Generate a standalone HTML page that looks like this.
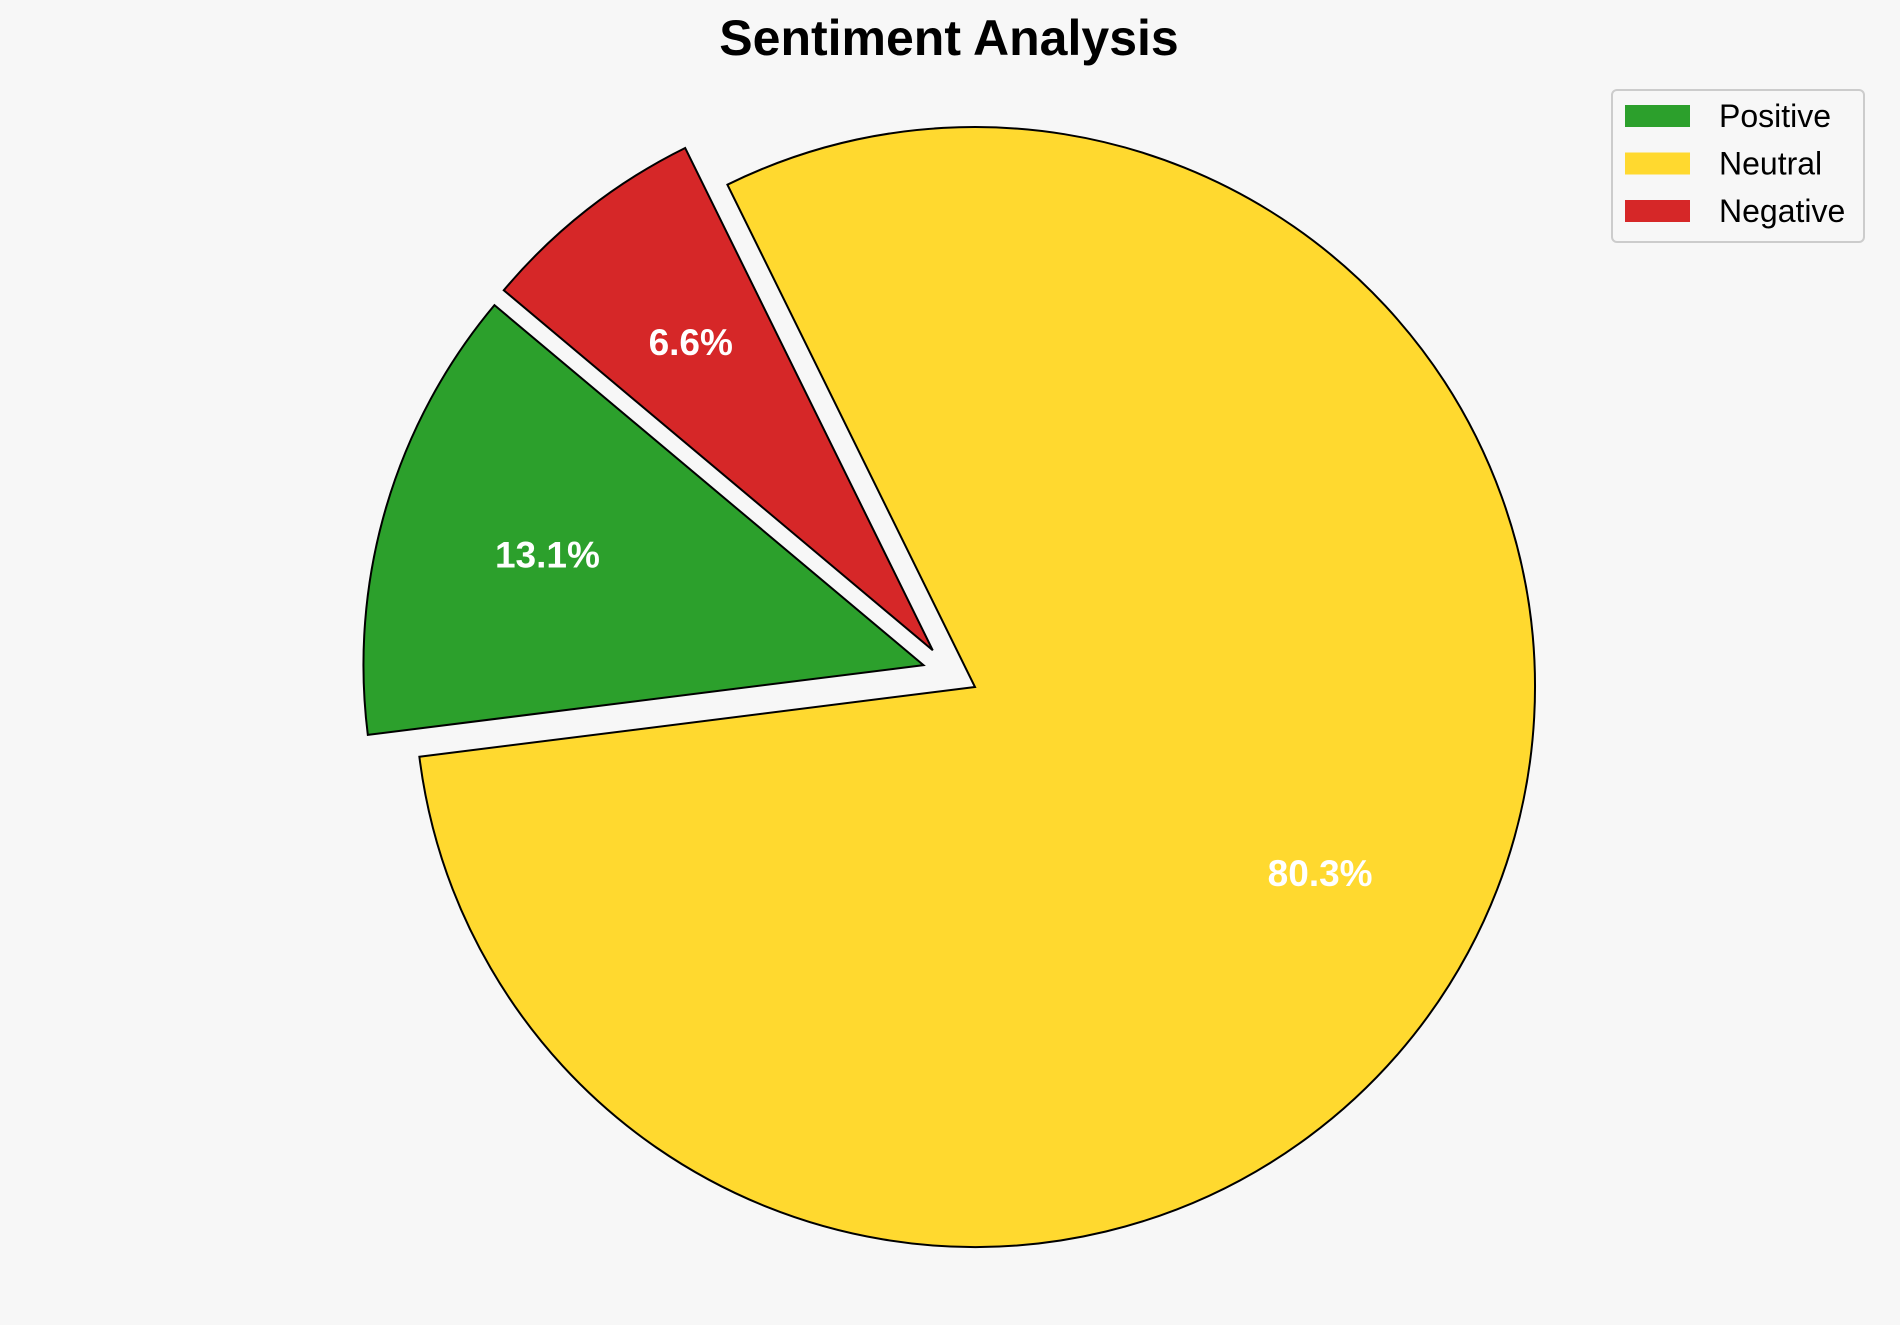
<!DOCTYPE html>
<html><head><meta charset="utf-8">
<style>
html,body{margin:0;padding:0;background:#f7f7f7;}
svg{display:block;font-family:"Liberation Sans",Arial,sans-serif;}
</style></head>
<body>
<svg id="chart" width="1900" height="1325" viewBox="0 0 1900 1325">
<rect width="1900" height="1325" fill="#f7f7f7"/>
<text x="949" y="55" text-anchor="middle" font-size="50" font-weight="bold" fill="#000">Sentiment Analysis</text>
<g id="pie"></g>
<g id="legend">
<rect x="1612" y="90" width="252" height="152" rx="5" fill="#f7f7f7" stroke="#cccccc" stroke-width="2"/>
</g>
</svg>
<script>
const categories = ["Positive", "Neutral", "Negative"];
const values = [13.1, 80.3, 6.6];
const colors = ["#2ca02c", "#ffd92f", "#d62728"];
const explode = [0.1, 0, 0.1];
const explodeDir = [157, null, 139];
const startAngle = 140;

const cx = 975, cy = 687, R = 560, pctDist = 0.7;
const NS = "http://www.w3.org/2000/svg";
const pie = document.getElementById("pie");
const total = values.reduce((a,b)=>a+b,0);
let a0 = startAngle;
function pt(ox, oy, r, deg){ const t = deg*Math.PI/180; return [ox + r*Math.cos(t), oy - r*Math.sin(t)]; }
values.forEach((v,i)=>{
  const span = v/total*360;
  const a1 = a0 + span;
  const mid = (a0+a1)/2;
  const dir = explodeDir[i] == null ? mid : explodeDir[i];
  const [ox, oy] = pt(cx, cy, explode[i]*R, dir);
  const p0 = pt(ox, oy, R, a0), p1 = pt(ox, oy, R, a1);
  const large = span > 180 ? 1 : 0;
  const path = document.createElementNS(NS, "path");
  path.setAttribute("d", `M${ox},${oy} L${p0[0]},${p0[1]} A${R},${R} 0 ${large} 0 ${p1[0]},${p1[1]} Z`);
  path.setAttribute("fill", colors[i]);
  path.setAttribute("stroke", "#000");
  path.setAttribute("stroke-width", "2");
  
  
  pie.appendChild(path);
  const lp = pt(ox, oy, R*pctDist, mid);
  const t = document.createElementNS(NS, "text");
  t.setAttribute("x", lp[0]); t.setAttribute("y", lp[1] + 13);
  t.setAttribute("text-anchor", "middle");
  t.setAttribute("font-size", "37"); t.setAttribute("font-weight", "bold");
  t.setAttribute("fill", "#fff");
  t.textContent = (v/total*100).toFixed(1) + "%";
  
  
  pie.appendChild(t);
  a0 = a1;
});
const legend = document.getElementById("legend");
categories.forEach((c,i)=>{
  const y = 116 + i*47.5;
  const r = document.createElementNS(NS, "rect");
  r.setAttribute("x", 1625); r.setAttribute("y", y-11);
  r.setAttribute("width", 65); r.setAttribute("height", 22);
  r.setAttribute("fill", colors[i]);
  
  
  legend.appendChild(r);
  const t = document.createElementNS(NS, "text");
  t.setAttribute("x", 1719); t.setAttribute("y", y+11);
  t.setAttribute("font-size", "32"); t.setAttribute("fill", "#000");
  t.textContent = c;
  
  
  legend.appendChild(t);
});
</script>
</body></html>
